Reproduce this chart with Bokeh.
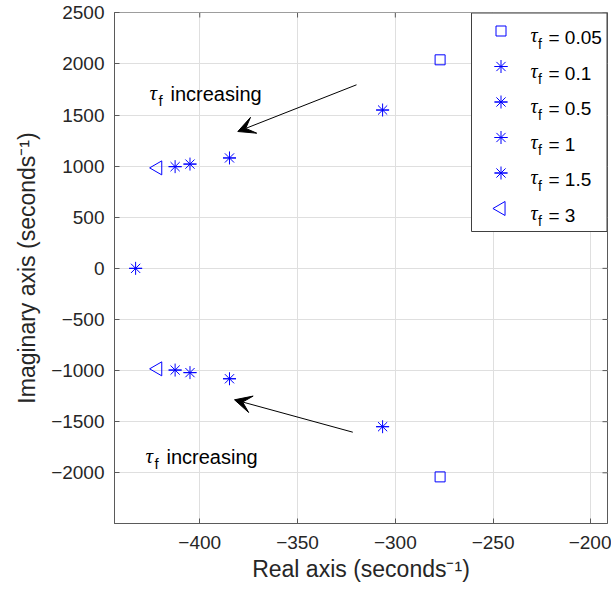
from bokeh.plotting import figure
from bokeh.models import Range1d, FixedTicker, Arrow, VeeHead, ColumnDataSource
from bokeh.core.properties import value
from bokeh.embed import file_html
from bokeh.resources import INLINE

# Closed-loop poles for several filter time constants tau_f
tau_labels = ["0.05", "0.1", "0.5", "1", "1.5", "3"]
pole_real = [-277.1, -306.5, -384.8, -405.0, -412.6, -421.5]
pole_imag = [2040.0, 1549.0, 1080.0, 1020.0, 995.0, 983.0]
real_pole = [-432.8]          # pole on the real axis
markers = ["square", "star", "star", "star", "star", "tri_left"]

x_ticks = [-400, -350, -300, -250, -200]
y_ticks = [-2000, -1500, -1000, -500, 0, 500, 1000, 1500, 2000, 2500]

X0, X1 = -443.6, -191.5
Y0, Y1 = -2496.0, 2503.0

W, H = 611, 592
BL, BR, BT, BB = 114, 4, 12, 69
FL, FR, FT, FB = BL, W - BR, BT, H - BB

def dx(px):
    return X0 + (px - FL) / (FR - FL) * (X1 - X0)

def dy(py):
    return Y1 - (py - FT) / (FB - FT) * (Y1 - Y0)

BLUE = "#0000ff"
AX = "#5a5a5a"
TXT = "#262626"
SANS = "Liberation Sans"

p = figure(width=W, height=H, output_backend="svg", toolbar_location=None,
           x_range=Range1d(X0, X1), y_range=Range1d(Y0, Y1),
           min_border_left=BL, min_border_right=BR, min_border_top=BT,
           min_border_bottom=BB, background_fill_color="white",
           border_fill_color="white")

p.outline_line_color = AX
p.outline_line_width = 1
p.grid.grid_line_color = "#dfdfdf"
p.grid.grid_line_width = 1
p.xgrid.ticker = FixedTicker(ticks=x_ticks)
p.ygrid.ticker = FixedTicker(ticks=y_ticks)

for ax in (p.xaxis[0], p.yaxis[0]):
    ax.axis_line_color = AX
    ax.major_tick_line_color = AX
    ax.major_tick_in = 5
    ax.major_tick_out = 0
    ax.minor_tick_line_color = None
    ax.major_label_text_font = SANS
    ax.major_label_text_font_size = "19px"
    ax.major_label_text_color = TXT
    ax.axis_label_text_font = SANS
    ax.axis_label_text_font_style = "normal"
    ax.axis_label_text_font_size = "23px"
    ax.axis_label_text_color = TXT

p.xaxis[0].ticker = FixedTicker(ticks=x_ticks)
p.yaxis[0].ticker = FixedTicker(ticks=y_ticks)
p.xaxis[0].major_label_standoff = 12
p.yaxis[0].major_label_standoff = 10
p.xaxis[0].axis_label = "Real axis (seconds\u207b\u00b9)"
p.yaxis[0].axis_label = "Imaginary axis (seconds\u207b\u00b9)"
p.xaxis[0].axis_label_standoff = 4
p.yaxis[0].axis_label_standoff = 8

# mirrored tick marks along the top and right edges of the box
tick_len_x = 5 * (Y1 - Y0) / (FB - FT)
tick_len_y = 5 * (X1 - X0) / (FR - FL)
p.segment(x0=x_ticks, y0=[Y1] * len(x_ticks), x1=x_ticks,
          y1=[Y1 - tick_len_x] * len(x_ticks), line_color=AX, line_width=1)
p.segment(x0=[X1] * len(y_ticks), y0=y_ticks, x1=[X1 - tick_len_y] * len(y_ticks),
          y1=y_ticks, line_color=AX, line_width=1)


def draw_marker(kind, xs, ys):
    if kind == "square":
        p.scatter(xs, ys, marker="square", size=10, fill_color=None,
                  line_color=BLUE, line_width=1)
    elif kind == "star":
        p.scatter(xs, ys, marker="asterisk", size=13, line_color=BLUE, line_width=1)
        p.scatter(xs, ys, marker="dash", size=13, line_color=BLUE, line_width=1)
    else:
        p.scatter(xs, ys, marker="triangle", angle=1.5708, size=14,
                  fill_color=None, line_color=BLUE, line_width=1)


# conjugate pole pairs
for i, kind in enumerate(markers):
    draw_marker(kind, [pole_real[i], pole_real[i]], [pole_imag[i], -pole_imag[i]])
draw_marker("star", real_pole, [0.0])

# legend box, markers and labels
p.quad(left=[dx(471)], right=[dx(606.5)], top=[dy(12.5)], bottom=[dy(231)],
       fill_color="white", line_color="#404040", line_width=1)
rows = [30.5 + 35.5 * i for i in range(len(tau_labels))]
for i, kind in enumerate(markers):
    draw_marker(kind, [dx(500.5)], [dy(rows[i])])

leg = ColumnDataSource(dict(
    tx=[dx(530)] * len(rows), ty=[dy(r + 4) for r in rows],
    fx=[dx(537.5)] * len(rows), fy=[dy(r + 12.5) for r in rows],
    ex=[dx(548)] * len(rows), ey=[dy(r + 6.5) for r in rows],
    tau=["\u03c4"] * len(rows), sub=["f"] * len(rows),
    lab=["= " + t for t in tau_labels]))
for xs, ys, col, font, size, style in (
        ("tx", "ty", "tau", "Liberation Serif", "20px", "italic"),
        ("fx", "fy", "sub", SANS, "14px", "normal"),
        ("ex", "ey", "lab", SANS, "19px", "normal")):
    p.text(x=xs, y=ys, text=col, source=leg, text_font=value(font),
           text_font_size=size, text_font_style=style, text_color="black",
           text_baseline="alphabetic", text_align="left")

# annotations: tau_f increasing
for (x_tail, y_tail, x_tip, y_tip, tx, base) in ((356, 84.3, 237.3, 131, 149, 93),
                                                 (352.3, 431.7, 234, 399.3, 145, 456)):
    p.add_layout(Arrow(end=VeeHead(size=17, fill_color="black", line_color="black",
                                   line_width=1),
                       x_start=dx(x_tail), y_start=dy(y_tail),
                       x_end=dx(x_tip), y_end=dy(y_tip),
                       line_color="black", line_width=1))
    p.text(x=[dx(tx)], y=[dy(base - 1)], text=["\u03c4"], text_font=value("Liberation Serif"),
           text_font_size="21px", text_font_style="italic", text_color="black",
           text_baseline="alphabetic")
    p.text(x=[dx(tx + 9)], y=[dy(base + 7)], text=["f"], text_font=value(SANS),
           text_font_size="15px", text_color="black", text_baseline="alphabetic")
    p.text(x=[dx(tx + 21)], y=[dy(base)], text=["increasing"], text_font=value(SANS),
           text_font_size="20px", text_color="black", text_baseline="alphabetic")

open("out.html", "w").write(file_html(p, INLINE))
